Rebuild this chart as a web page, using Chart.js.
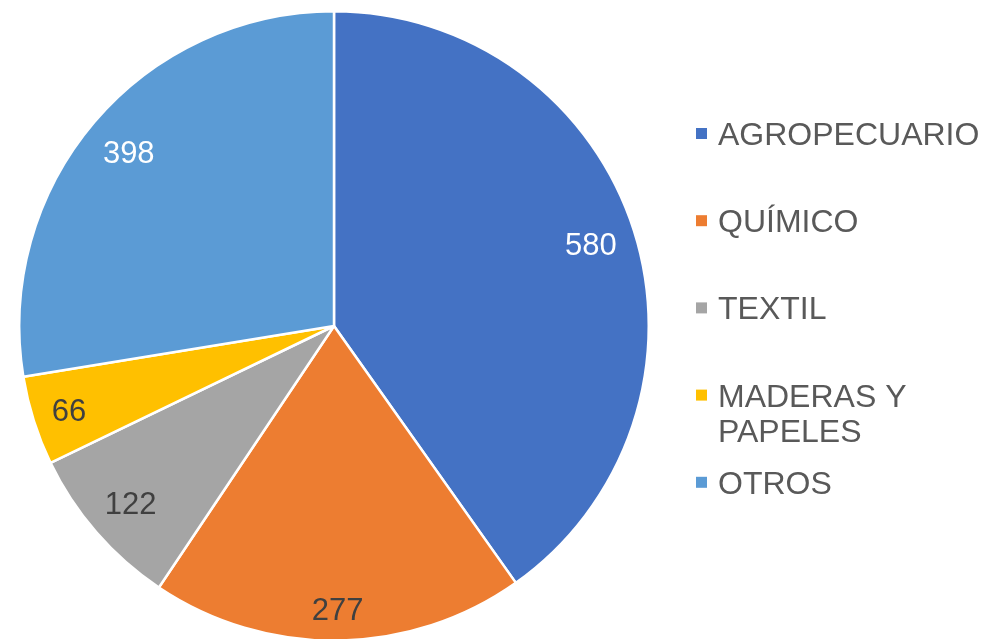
<!DOCTYPE html>
<html>
<head>
<meta charset="utf-8">
<script src="https://cdn.jsdelivr.net/npm/chart.js@4/dist/chart.umd.min.js"></script>
<style>
  html, body { margin: 0; padding: 0; background: #fff; overflow: hidden; }
  #wrap { position: relative; width: 984px; height: 643px; }
</style>
</head>
<body>
<div id="wrap"><canvas id="c"></canvas></div>
<script>
// ---- data ----
const categories = ["AGROPECUARIO", "QUÍMICO", "TEXTIL", "MADERAS Y PAPELES", "OTROS"];
const values = [580, 277, 122, 66, 398];

// ---- styles ----
const sliceColors = ["#4472C4", "#ED7D31", "#A5A5A5", "#FFC000", "#5B9BD5"];
const labelColors = ["#FFFFFF", "#404040", "#404040", "#404040", "#FFFFFF"];
const FONT = '"Liberation Sans", Arial, sans-serif';

const dataLabelPlugin = {
  id: 'dataLabels',
  afterDatasetsDraw(chart) {
    const ctx = chart.ctx;
    const meta = chart.getDatasetMeta(0);
    const size = 31;
    ctx.save();
    ctx.font = size + 'px ' + FONT;
    ctx.textAlign = 'center';
    ctx.textBaseline = 'alphabetic';
    meta.data.forEach((arc, i) => {
      const txt = String(chart.data.datasets[0].data[i]);
      const hw = ctx.measureText(txt).width / 2;
      const hh = 15;
      const mid = (arc.startAngle + arc.endAngle) / 2;
      const c = Math.cos(mid), s = Math.sin(mid);
      const r = arc.outerRadius - 16 - (hw * Math.abs(c) + hh * Math.abs(s));
      const x = arc.x + c * r;
      const y = arc.y + s * r;
      ctx.fillStyle = labelColors[i];
      ctx.fillText(txt, x, y + size * 0.358);
    });
    ctx.restore();
  }
};

const legendPlugin = {
  id: 'customLegend',
  afterDraw(chart) {
    const ctx = chart.ctx;
    const size = 32;
    const lineH = 35;
    const step = 87.2;
    const markerX = 696, textX = 718, maxW = 266;
    let y = 133.5;
    ctx.save();
    ctx.font = size + 'px ' + FONT;
    ctx.textBaseline = 'alphabetic';
    ctx.textAlign = 'left';
    chart.data.labels.forEach((lab, i) => {
      const words = lab.split(' ');
      const lines = [];
      let cur = '';
      words.forEach(w => {
        const t = cur ? cur + ' ' + w : w;
        if (ctx.measureText(t).width > maxW && cur) { lines.push(cur); cur = w; }
        else cur = t;
      });
      if (cur) lines.push(cur);
      ctx.fillStyle = sliceColors[i];
      ctx.fillRect(markerX, y - 5.5, 11, 11);
      ctx.fillStyle = '#595959';
      lines.forEach((ln, k) => {
        ctx.fillText(ln, textX, y + k * lineH + size * 0.358);
      });
      y += step;
    });
    ctx.restore();
  }
};

new Chart(document.getElementById('c'), {
  type: 'pie',
  data: {
    labels: categories,
    datasets: [{
      data: values,
      backgroundColor: sliceColors,
      borderColor: '#FFFFFF',
      borderWidth: 2.5
    }]
  },
  options: {
    responsive: true,
    maintainAspectRatio: false,
    animation: false,
    layout: { padding: { left: 18, right: 334, top: 10, bottom: 1 } },
    plugins: {
      legend: { display: false },
      tooltip: { enabled: false },
      title: { display: false }
    }
  },
  plugins: [dataLabelPlugin, legendPlugin]
});
</script>
</body>
</html>
